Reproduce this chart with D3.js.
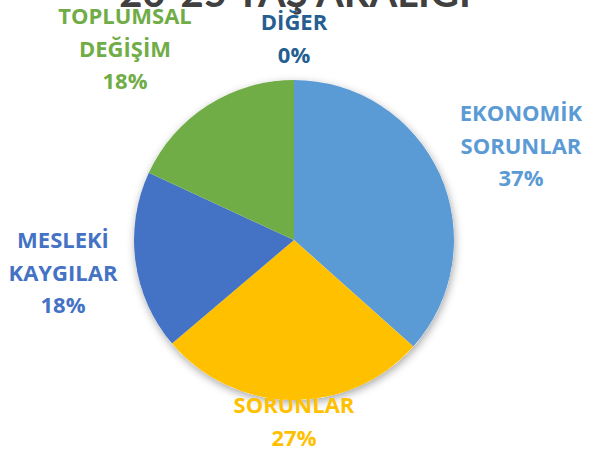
<!DOCTYPE html>
<html>
<head>
<meta charset="utf-8">
<script src="https://cdn.jsdelivr.net/npm/d3@7"></script>
<style>
  body { margin: 0; background: #fff; }
  .lbl { font-family: "Open Sans", Lato, sans-serif; font-weight: bold; font-size: 22px; }
</style>
</head>
<body>
<div class="chart"></div>
<script>
//svg dimensions
var svgWidth = 590;
var svgHeight = 453;

// chart data (share of answers, percent)
var categories = ["EKONOMİK SORUNLAR", "SORUNLAR", "MESLEKİ KAYGILAR", "TOPLUMSAL DEĞİŞİM", "DİĞER"];
var values = [36.6, 27.2, 18.1, 18.1, 0];
var colors = ["#5B9BD5", "#FFC000", "#4472C4", "#70AD47", "#255E91"];
var titleText = "20-25 YAŞ ARALIĞI";

// where each label block sits (center x, first baseline y)
var labelPos = [[521, 121], [294, 413], [63, 248], [125, 24], [294, 30]];

var cx = 294, cy = 240, radius = 160;

var svg = d3.select(".chart")
  .append("svg")
  .attr("width", svgWidth)
  .attr("height", svgHeight);

var defs = svg.append("defs");
var filter = defs.append("filter")
  .attr("id", "shadow")
  .attr("x", "-20%").attr("y", "-20%")
  .attr("width", "140%").attr("height", "140%");
filter.append("feDropShadow")
  .attr("dx", 1)
  .attr("dy", 3)
  .attr("stdDeviation", 4)
  .attr("flood-color", "#000")
  .attr("flood-opacity", 0.35);

/********************************************/
var pie = d3.pie().sort(null).value(d => d);
var arc = d3.arc().innerRadius(0).outerRadius(radius);

var pieGroup = svg.append("g")
  .attr("transform", `translate(${cx}, ${cy})`);

pieGroup.append("circle")
  .attr("r", radius)
  .attr("fill", "#fff")
  .attr("filter", "url(#shadow)");

pieGroup.selectAll("path")
  .data(pie(values))
  .enter()
  .append("path")
  .attr("d", arc)
  .attr("fill", (d, i) => colors[i]);

/********************************************/
// title (cut off at the top edge)
svg.append("text")
  .attr("x", 295)
  .attr("y", 7)
  .attr("text-anchor", "middle")
  .attr("fill", "#404040")
  .style("font-family", "Lato, sans-serif")
  .style("font-weight", "bold")
  .style("font-size", "40px")
  .text(titleText);

/********************************************/
// data labels
categories.forEach(function (name, i) {
  var words = name.split(" ");
  var lines = words.concat([Math.round(values[i]) + "%"]);
  var t = svg.append("text")
    .attr("class", "lbl")
    .attr("text-anchor", "middle")
    .attr("fill", colors[i]);
  lines.forEach(function (line, j) {
    t.append("tspan")
      .attr("x", labelPos[i][0])
      .attr("y", labelPos[i][1] + j * 32.5)
      .text(line);
  });
});
</script>
</body>
</html>
